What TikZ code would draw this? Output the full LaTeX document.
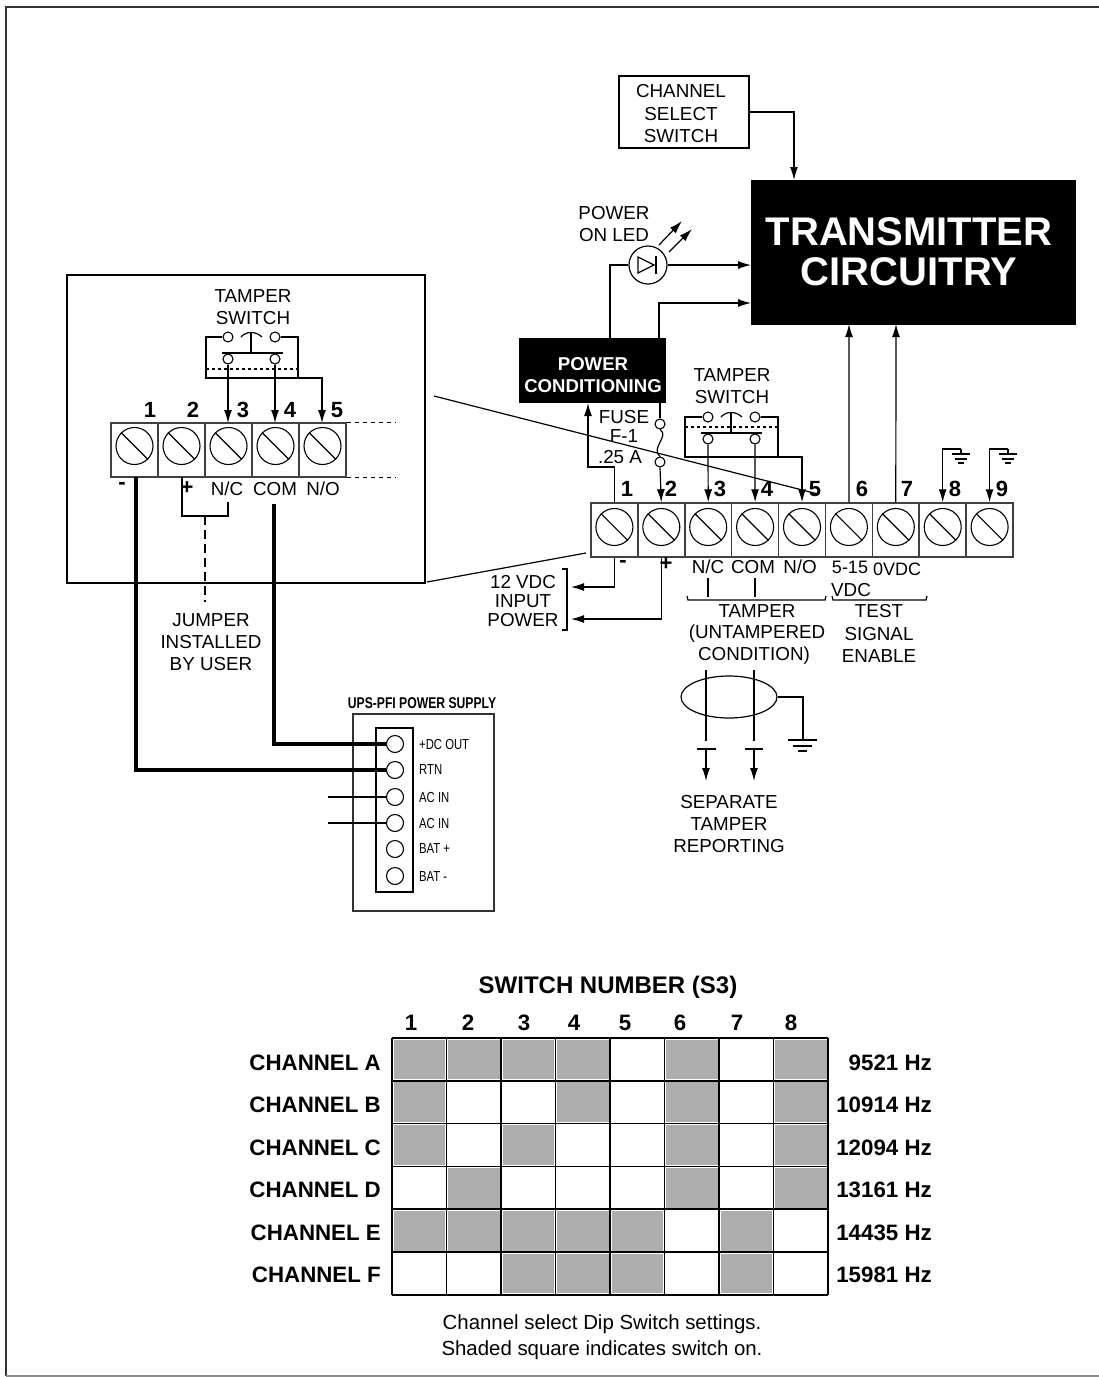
\documentclass[tikz,border=0pt]{standalone}
\usepackage{fontspec}
\usetikzlibrary{shapes.geometric,arrows.meta}
\setmainfont{Liberation Sans}
\newfontfamily\narrowfont[FakeStretch=0.78]{Liberation Sans}
\definecolor{cellgray}{gray}{0.68}
\tikzset{
	lbl/.style={inner sep=0pt,font=\fontsize{18.8}{19}\selectfont},
	num/.style={inner sep=0pt,font=\bfseries\fontsize{22}{22}\selectfont},
	tbl/.style={inner sep=0pt,font=\bfseries\fontsize{22.3}{22}\selectfont},
	ups/.style={inner sep=0pt,anchor=west,font=\narrowfont\fontsize{14.5}{15}\selectfont},
	blk/.style={fill=black,draw=black,text=white,align=center,font=\bfseries},
	cell/.style={draw=black!75,line width=1.5pt,minimum width=47pt,minimum height=54pt,inner sep=0pt},
	screw/.style={circle,draw,line width=1.1pt,minimum size=37pt,inner sep=0pt},
	post/.style={circle,draw,line width=1.1pt,minimum size=10pt,inner sep=0pt},
	lug/.style={circle,draw,line width=1.1pt,minimum size=17pt,inner sep=0pt},
	wire/.style={line width=1.2pt},
	fat/.style={line width=3.2pt},
	stub/.style={line width=1.2pt,dash pattern=on 4pt off 4pt},
	jump/.style={line width=1.2pt,dash pattern=on 9pt off 5pt}
}
\begin{document}
\begin{tikzpicture}[>={Latex[length=13pt,width=8pt]},x=1pt,y=-1pt]
	\useasboundingbox (0,0) rectangle (1099,1377);
	% page frame
	\draw[line width=2pt,black!80](6,1376)--(6,7)--(1099,7);
	\draw[line width=1.4pt,black!45](6,1376)--(1099,1376);
	% channel select and transmitter
	\node[draw,wire,minimum width=130pt,minimum height=72pt,inner sep=0pt] (sel) at (684,112) {};
	\node[lbl] (selA) at (681,91) {CHANNEL};
	\node[lbl] (selB) at (681,114) {SELECT};
	\node[lbl] (selC) at (681,136) {SWITCH};
	\node[blk,minimum width=324pt,minimum height=144pt,inner sep=0pt] (tx) at (913,252) {};
	\node[inner sep=0pt,text=white,font=\bfseries\fontsize{40}{40}\selectfont] (txA) at (909,232) {TRANSMITTER};
	\node[inner sep=0pt,text=white,font=\bfseries\fontsize{40}{40}\selectfont] (txB) at (909,272) {CIRCUITRY};
	\coordinate (txin) at (794,180);
	\draw[->,wire](sel.east)-|(txin);
	% led
	\node[lbl] (ledA) at (614,213) {POWER};
	\node[lbl] (ledB) at (614,235) {ON LED};
	\node[circle,draw,wire,minimum size=38pt,inner sep=0pt] (led) at (648,265) {};
	\draw[wire](638,257)--(638,273)--(654,265)--cycle;
	\draw[wire](656,256)--(656,274);
	\draw[->,wire](659,245)--(682,221);
	\draw[->,wire](669,252)--(692,229);
	\node[blk,minimum width=146pt,minimum height=64pt,inner sep=0pt] (pwr) at (592.5,370.5) {};
	\node[inner sep=0pt,text=white,font=\bfseries\fontsize{18.6}{19}\selectfont] (pwrA) at (593,364) {POWER};
	\node[inner sep=0pt,text=white,font=\bfseries\fontsize{18.6}{19}\selectfont] (pwrB) at (593,386) {CONDITIONING};
	\coordinate (pwra) at (610,338);
	\coordinate (pwrb) at (659,338);
	\coordinate (txa) at (751,265);
	\coordinate (txb) at (751,303);
	\draw[wire](pwra)|-(led.west);
	\draw[->,wire](led.east)--(txa);
	\draw[->,wire](pwrb)|-(txb);
	% terminal strips
	\foreach \n in {1,...,9}{
		\node[cell] (m\n) at ({567.5+46.9*\n},530) {};
		\node[screw] (ms\n) at ({567.5+46.9*\n},527) {};
		\draw[wire](ms\n.135)--(ms\n.-45);
	}
	\foreach \n in {1,...,5}{
		\node[cell] (s\n) at ({87.5+47*\n},450) {};
		\node[screw] (ss\n) at ({87.5+47*\n},446) {};
		\draw[wire](ss\n.135)--(ss\n.-45);
	}
	\foreach \x/\t in {627/1,671/2,720/3,767/4,815/5,862/6,907/7,955/8,1002/9}
		\node[num] (mn\t) at (\x,489) {\t};
	\foreach \x/\t in {150/1,193/2,243/3,290/4,337/5}
		\node[num] (sn\t) at (\x,410) {\t};
	% inset box
	\node[draw,wire,minimum width=358pt,minimum height=308pt,inner sep=0pt] (inset) at (246,429) {};
	\draw[stub](s5.north east)--+(49,0);
	\draw[stub](s5.south east)--+(49,0);
	\coordinate (zoomA) at (434,396);
	\coordinate (zoomB) at (818,494);
	\coordinate (zoomC) at (427,582);
	\coordinate (zoomD) at (586,553);
	\draw[wire](zoomA)--(zoomB);
	\draw[wire](zoomC)--(zoomD);
	% inset tamper switch
	\node[lbl] (istA) at (253,296) {TAMPER};
	\node[lbl] (istB) at (253,318) {SWITCH};
	\node[post] (ia) at (228,337) {};
	\node[post] (ib) at (275,337) {};
	\node[post] (ic) at (228,359) {};
	\node[post] (id) at (275,359) {};
	\draw[wire](ia.west)-|(206,378)--(298,378)|-(ib.east);
	\draw[wire,dashed](206,369)--(298,369);
	\draw[wire](222,353)--(283,353);
	\draw[wire](251,353)--(251,333);
	\draw[wire](241,337)..controls(246,331)and(256,331)..(262,337);
	\draw[->,wire](ic.south)--(228,423);
	\draw[->,wire](id.south)--(275,423);
	\draw[->,wire](298,378)-|(322,423);
	\node[inner sep=0pt,font=\bfseries\fontsize{22}{22}\selectfont] (iminus) at (122,486) {-};
	\node[num] (iplus) at (187,488) {+};
	\node[lbl] (inc) at (227,489) {N/C};
	\node[lbl] (icom) at (275,489) {COM};
	\node[lbl] (ino) at (323,489) {N/O};
	\coordinate (jmpA) at (182,477);
	\coordinate (jmpB) at (228,502);
	\draw[wire](jmpA)|-(205,516)-|(jmpB);
	\draw[jump](205,516)--(205,602);
	\node[lbl] (jmA) at (211,620) {JUMPER};
	\node[lbl] (jmB) at (211,642) {INSTALLED};
	\node[lbl] (jmC) at (211,664) {BY USER};
	% power supply
	\node[inner sep=0pt,font=\narrowfont\bfseries\fontsize{15.6}{16}\selectfont] (upsT) at (422,703) {UPS-PFI POWER SUPPLY};
	\node[draw,wire,black!80,minimum width=141pt,minimum height=197pt,inner sep=0pt] (ups) at (423.5,812.5) {};
	\node[draw,wire,minimum width=37pt,minimum height=164pt,inner sep=0pt] (upsin) at (394.5,810) {};
	\foreach \y/\t/\m in {744/+DC OUT/a,770/RTN/b,797/AC IN/c,823/AC IN/d,849/BAT +/e,876/BAT -/f}{
		\node[lug] (lug\m) at (395,\y) {};
		\node[ups] (t\m) at (419,\y) {\t};
	}
	\coordinate (acA) at (328,797);
	\coordinate (acB) at (328,823);
	\draw[wire](acA)--(lugc.west);
	\draw[wire](acB)--(lugd.west);
	\coordinate (comtop) at (274,504);
	\draw[fat](136,477)--(136,770)--(lugb.west);
	\draw[fat](comtop)|-(luga.west);
	% main tamper switch
	\node[lbl] (mstA) at (732,375) {TAMPER};
	\node[lbl] (mstB) at (732,397) {SWITCH};
	\node[post] (ma) at (708,417) {};
	\node[post] (mb) at (755,417) {};
	\node[post] (mc) at (708,439) {};
	\node[post] (md) at (755,439) {};
	\draw[wire](ma.west)-|(685,457)--(778,457)|-(mb.east);
	\draw[wire,dashed](685,427)--(778,427);
	\draw[wire](701,433)--(762,433);
	\draw[wire](731,433)--(731,413);
	\draw[wire](721,417)..controls(726,411)and(736,411)..(742,417);
	\draw[->,wire](mc.south)--(m3.north);
	\draw[->,wire](md.south)--(m4.north);
	\draw[->,wire](778,457)-|(m5.north);
	% fuse
	\node[lbl] (fuA) at (624,417) {FUSE};
	\node[lbl] (fuB) at (624,436) {F-1};
	\node[lbl] (fuC) at (620,457) {.25 A};
	\node[post] (fa) at (660,424) {};
	\node[post] (fb) at (660,462) {};
	\draw[wire](660,403)--(fa.north);
	\draw[wire](fa.south)..controls(670,436)and(650,448)..(fb.north);
	\draw[->,wire](fb.south)--(m2.north);
	\coordinate (pwrc) at (588,403);
	\draw[->,wire](m1.north)|-(588,467)--(pwrc);
	% signals and grounds
	\coordinate (txc) at (849,324);
	\coordinate (txd) at (896,324);
	\draw[->,wire](m6.north)--(txc);
	\draw[->,wire](m7.north)--(txd);
	\foreach \n/\x in {8/943,9/990}{
		\draw[->,wire](\x+18,449)-|(m\n.north);
		\draw[wire](\x+18,449)--(\x+18,454);
		\draw[wire](\x+9,454)--(\x+27,454);
		\draw[wire](\x+12,459)--(\x+24,459);
		\draw[wire](\x+15,463)--(\x+21,463);
	}
	% input power
	\node[inner sep=0pt,font=\bfseries\fontsize{22}{22}\selectfont] (mminus) at (623,564) {-};
	\node[num] (mplus) at (666,564) {+};
	\node[lbl] (mnc) at (708,567) {N/C};
	\node[lbl] (mcom) at (753,567) {COM};
	\node[lbl] (mno) at (800,567) {N/O};
	\node[lbl,font=\fontsize{18}{18}\selectfont] (mvA) at (850,567) {5-15};
	\node[lbl] (mvB) at (851,590) {VDC};
	\node[lbl,font=\fontsize{18}{18}\selectfont] (mvC) at (897,569) {0VDC};
	\node[lbl] (ipA) at (523,582) {12 VDC};
	\node[lbl] (ipB) at (523,601) {INPUT};
	\node[lbl] (ipC) at (523,620) {POWER};
	\draw[wire](562,569)--(567,569)--(567,630)--(562,630);
	\coordinate (ipD) at (571,587);
	\coordinate (ipE) at (571,619);
	\draw[->,wire](m1.south)|-(ipD);
	\draw[->,wire](m2.south)|-(ipE);
	\draw[wire](708,578)--(708,597);
	\draw[wire](755,578)--(755,597);
	\draw[wire](687,596)--(688,600)--(825,600)--(826,596);
	\draw[wire](832,596)--(833,600)--(926,600)--(927,596);
	\node[lbl] (tpA) at (757,611) {TAMPER};
	\node[lbl] (tpB) at (757,634) {(UNTAMPERED};
	\node[lbl] (tpC) at (754,656) {CONDITION)};
	\node[lbl] (tsA) at (879,611) {TEST};
	\node[lbl] (tsB) at (879,634) {SIGNAL};
	\node[lbl] (tsC) at (879,656) {ENABLE};
	% shield
	\node[ellipse,draw,wire,minimum width=96pt,minimum height=42pt,inner sep=0pt] (shd) at (729,697) {};
	\coordinate (gnd) at (803,740);
	\draw[line width=2pt](shd.east)-|(gnd);
	\draw[line width=2pt](788,740)--(817,740);
	\draw[line width=2pt](793,746)--(812,746);
	\draw[line width=2pt](798,751)--(807,751);
	\draw[wire](706,670)--(706,741);
	\draw[wire](754,670)--(754,741);
	\draw[wire](697,749)--(716,749);
	\draw[wire](745,749)--(763,749);
	\draw[->,wire](706,749)--(706,781);
	\draw[->,wire](754,749)--(754,781);
	\node[lbl] (rpA) at (729,802) {SEPARATE};
	\node[lbl] (rpB) at (729,824) {TAMPER};
	\node[lbl] (rpC) at (729,846) {REPORTING};
	% switch table
	\node[tbl,font=\bfseries\fontsize{24}{24}\selectfont] (swT) at (608,987) {SWITCH NUMBER (S3)};
	\foreach \x/\t in {411/1,468/2,524/3,574/4,625/5,680/6,737/7,791/8}
		\node[tbl] (col\t) at (\x,1023) {\t};
	\foreach \r/\cols in {0/{1,2,3,4,6,8},1/{1,4,6,8},2/{1,3,6,8},3/{2,6,8},4/{1,2,3,4,5,7},5/{3,4,5,7}}
		\foreach \c in \cols
			\fill[cellgray]({393.5+54.5*(\c-1)},{1039.5+42.8*\r}) rectangle +(51.5,39.8);
	\foreach \r in {0,...,6}
		\draw[line width=1.6pt](392,{1038+42.8*\r})--(828,{1038+42.8*\r});
	\foreach \c in {0,...,8}
		\draw[line width=1.6pt]({392+54.5*\c},1038)--({392+54.5*\c},1295);
	\foreach \y/\t/\f/\m in {1063/A/9521/a,1105/B/10914/b,1148/C/12094/c,1190/D/13161/d,1233/E/14435/e,1275/F/15981/f}{
		\node[tbl,anchor=east] (ch\m) at (381,\y) {CHANNEL \t};
		\node[tbl,anchor=east] (hz\m) at (932,\y) {\f\ Hz};
	}
	\node[lbl,font=\fontsize{20.4}{20}\selectfont] (capA) at (602,1324) {Channel select Dip Switch settings.};
	\node[lbl,font=\fontsize{20.4}{20}\selectfont] (capB) at (602,1350) {Shaded square indicates switch on.};
\end{tikzpicture}
\end{document}
